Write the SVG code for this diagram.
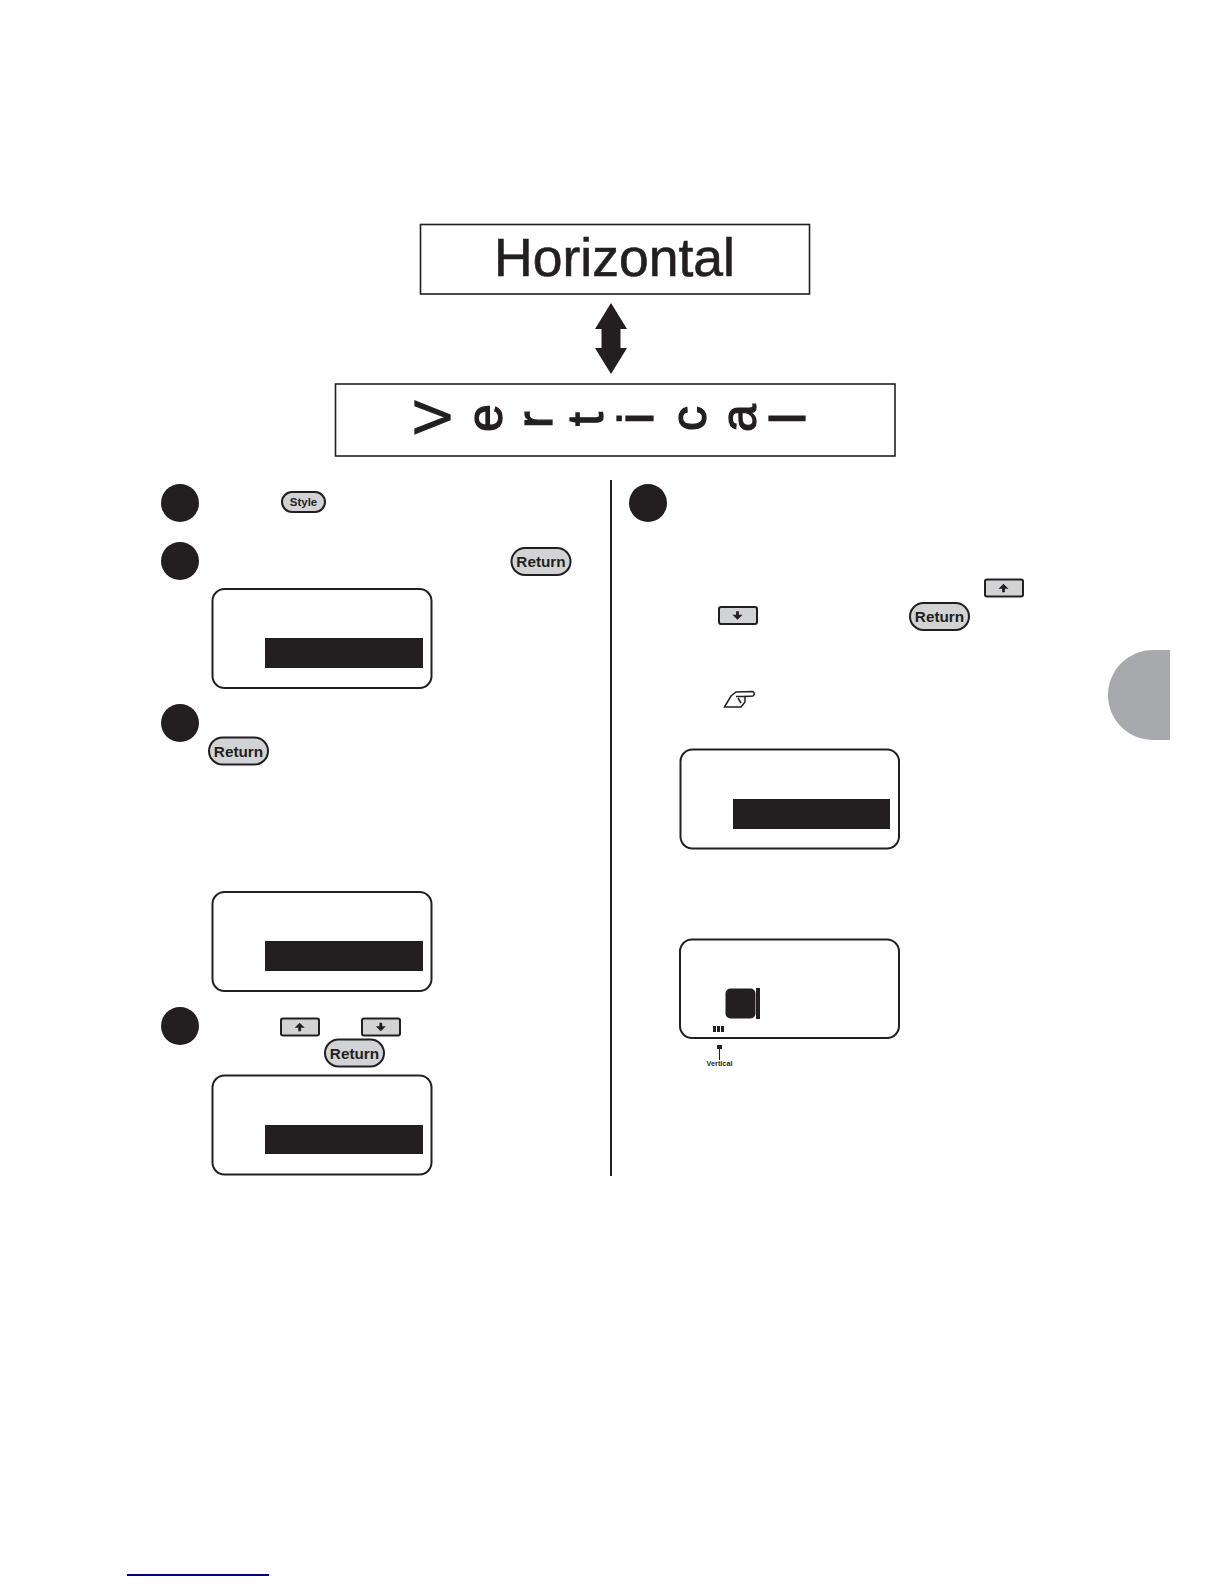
<svg xmlns="http://www.w3.org/2000/svg" width="1224" height="1584" viewBox="0 0 1224 1584">
<style>
text{font-family:"Liberation Sans",Arial,sans-serif;fill:#231f20}
.frame{fill:#fff;stroke:#231f20;stroke-width:1.6}
.lcd{fill:#fff;stroke:#231f20;stroke-width:2}
.bar{fill:#231f20}
.step{fill:#231f20}
.key{fill:#d1d3d4;stroke:#231f20;stroke-width:2}
.kt{font-weight:700;text-anchor:middle}
.ar{fill:#231f20}
</style>
<defs>
<path id="up" d="M0-4.200L5 .8H1.400V4.200H-1.400V.8H-5Z"/>
<path id="dn" d="M0 4.200L5-.8H1.400V-4.200H-1.400V-.8H-5Z"/>
</defs>
<rect width="1224" height="1584" fill="#fff"/>
<g id="horizontal-box"><rect class="frame" x="420.5" y="224.5" width="389" height="69.5"/>
<text x="614.5" y="276" font-size="53.5" text-anchor="middle" stroke="#231f20" stroke-width="0.6">Horizontal</text></g>
<g id="connectors">
<path class="ar" d="M611 303L627 329H620.500V348H627L611 374L595 348H601.500V329H595Z"/>
<line x1="611" y1="480" x2="611" y2="1176" stroke="#231f20" stroke-width="2"/>
</g>
<g id="vertical-box"><rect class="frame" x="335.5" y="384" width="559.5" height="72"/>
<text font-size="50" rotate="-90" stroke="#231f20" stroke-width="1.300" x="450 502 552 603 653 706 756 805" y="434 432 428 426 424 431 432 424">Vertical</text></g>
<g id="step-1"><circle class="step" cx="180" cy="503" r="19"/>
<rect class="key" x="282" y="492" width="43" height="20" rx="10"/><text class="kt" x="303.500" y="505.500" font-size="11.500">Style</text></g>
<g id="step-2"><circle class="step" cx="180" cy="561" r="19"/>
<rect class="key" x="511.500" y="548" width="59" height="27" rx="13.500"/><text class="kt" x="541" y="567" font-size="15.300">Return</text>
<rect class="lcd" x="212.500" y="589" width="219" height="99" rx="12"/><rect class="bar" x="265" y="638" width="158" height="30"/></g>
<g id="step-3"><circle class="step" cx="180" cy="723" r="19"/>
<rect class="key" x="209" y="737.500" width="59" height="27" rx="13.500"/><text class="kt" x="238.500" y="756.500" font-size="15.300">Return</text>
<rect class="lcd" x="212.500" y="892" width="219" height="99" rx="12"/><rect class="bar" x="265" y="941" width="158" height="30"/></g>
<g id="step-4"><circle class="step" cx="180" cy="1026" r="19"/>
<rect class="key" x="281" y="1018.500" width="38" height="17" rx="2"/><use href="#up" x="299.700" y="1027" class="ar"/>
<rect class="key" x="362" y="1018.500" width="38" height="17" rx="2"/><use href="#dn" x="380.800" y="1027" class="ar"/>
<rect class="key" x="325" y="1039.500" width="59" height="27" rx="13.500"/><text class="kt" x="354.500" y="1058.500" font-size="15.300">Return</text>
<rect class="lcd" x="212.500" y="1075.500" width="219" height="99" rx="12"/><rect class="bar" x="265" y="1125" width="158" height="29"/></g>
<g id="step-5"><circle class="step" cx="648" cy="503" r="19"/>
<rect class="key" x="985" y="579.500" width="38" height="17" rx="2"/><use href="#up" x="1003.500" y="588" class="ar"/>
<rect class="key" x="719" y="607" width="38" height="17" rx="2"/><use href="#dn" x="737.500" y="615.500" class="ar"/>
<rect class="key" x="910" y="603" width="59" height="27" rx="13.500"/><text class="kt" x="939.500" y="622" font-size="15.300">Return</text>
<path d="M724.500 707L731 696L736 692L753 691.500Q755.500 693.500 753 696L745 696.500L745 702L741 707Z" fill="#fff" stroke="#231f20" stroke-width="1.500"/>
<path d="M736 696.500L745 696.500M738 698L741 703" fill="none" stroke="#231f20" stroke-width="1.500"/>
<rect class="lcd" x="680.500" y="749.500" width="218.500" height="99" rx="12"/><rect class="bar" x="733" y="799" width="157" height="30"/></g>
<g id="lcd-vertical"><rect class="lcd" x="680" y="939.500" width="219" height="98.500" rx="12"/>
<rect class="bar" x="725.500" y="988.500" width="30" height="30" rx="5"/><rect class="bar" x="756" y="988" width="4" height="31"/>
<rect class="bar" x="713" y="1026" width="3" height="6"/><rect class="bar" x="717" y="1026" width="3" height="6"/><rect class="bar" x="721" y="1026" width="3" height="6"/>
<rect class="bar" x="717" y="1045" width="5" height="4"/><line x1="719.500" y1="1049" x2="719.500" y2="1060" stroke="#231f20"/>
<text class="kt" x="719.500" y="1066" font-size="7.300">Vertical</text></g>
<g id="side-tab"><path d="M1170 650H1153A45 45 0 0 0 1153 740H1170Z" fill="#a7a9ac"/></g>
<g id="footer-link"><line x1="127" y1="1575" x2="269" y2="1575" stroke="#000080" stroke-width="2"/></g>
</svg>
